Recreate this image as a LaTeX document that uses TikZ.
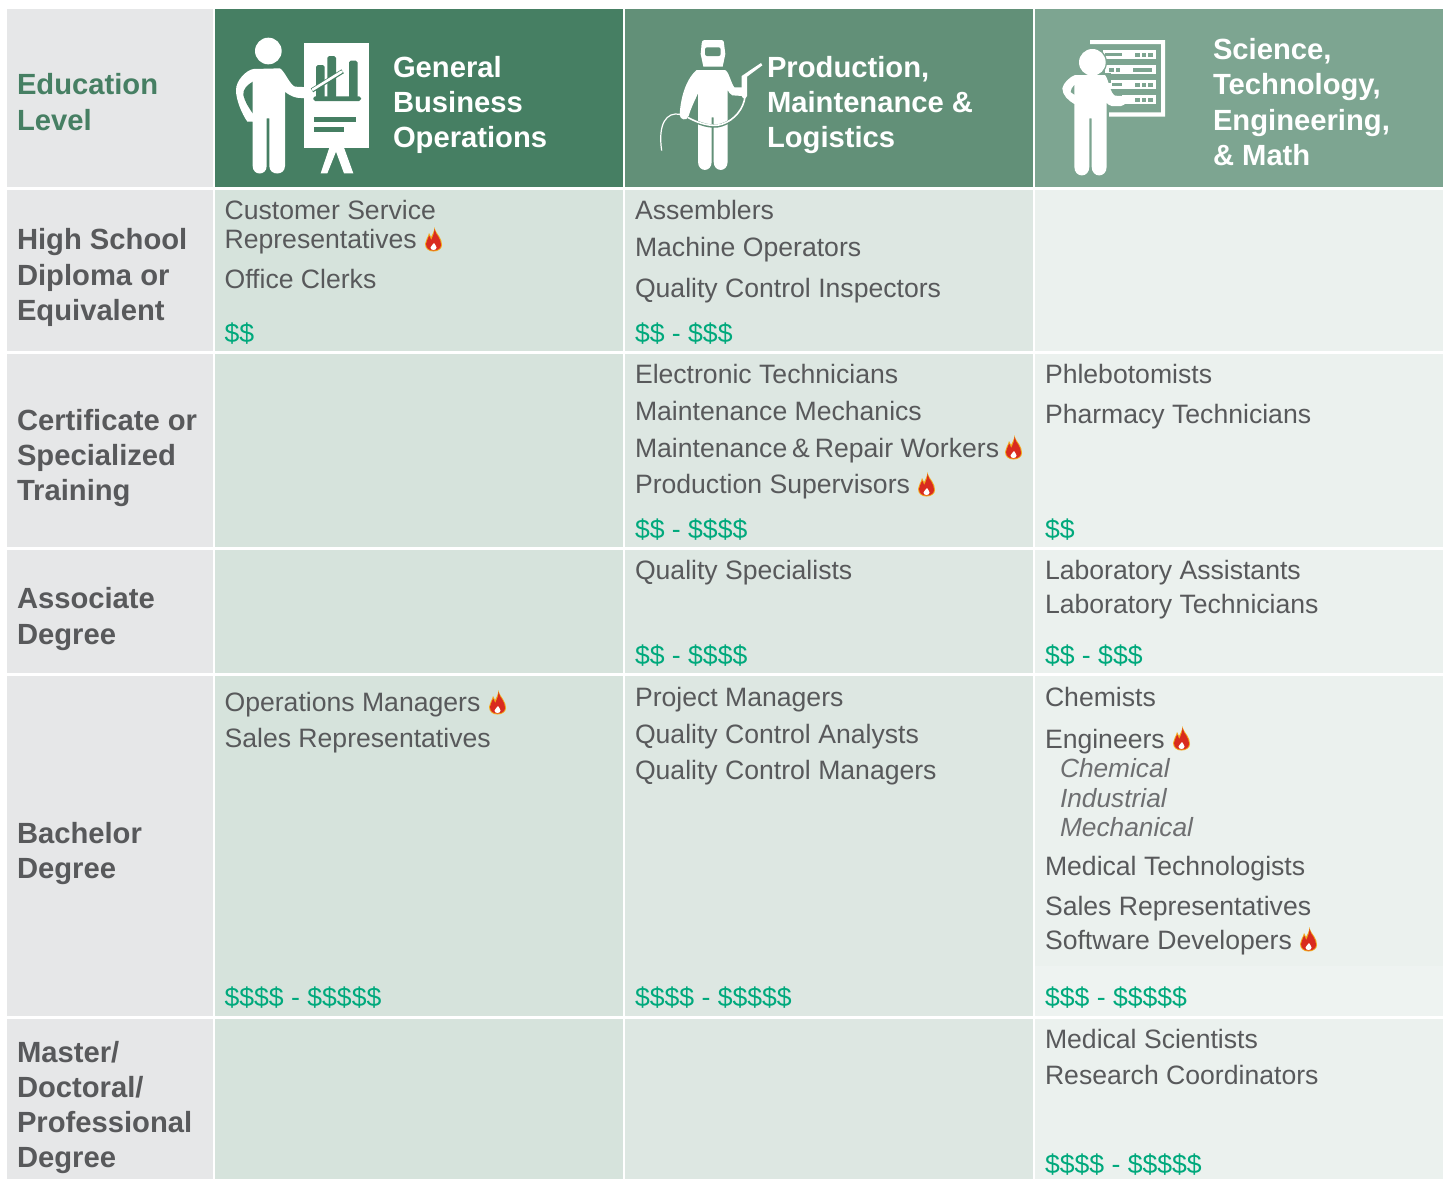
\documentclass[tikz,border=0pt]{standalone}
\usepackage{fontspec}
\setmainfont{Liberation Sans}
\definecolor{hA}{HTML}{467F63}
\definecolor{hB}{HTML}{629078}
\definecolor{hC}{HTML}{7DA591}
\definecolor{cGrey}{HTML}{E6E7E8}
\definecolor{cA}{HTML}{D6E3DC}
\definecolor{cB}{HTML}{DDE7E2}
\definecolor{cC}{HTML}{EBF1EE}
\definecolor{cCb}{HTML}{EEF3F1}
\definecolor{txt}{HTML}{58595B}
\definecolor{subtxt}{HTML}{6E6F71}
\definecolor{money}{HTML}{00A97C}
\definecolor{flameO}{HTML}{F2A81D}
\definecolor{flameR}{HTML}{D92B1F}
\tikzset{
  lab/.style={anchor=base west,inner sep=0pt,outer sep=0pt,font=\fontsize{29.2}{32}\selectfont\bfseries},
  side/.style={lab,text=txt},
  edu/.style={lab,text=hA},
  head/.style={lab,text=white},
  job/.style={anchor=base west,inner sep=0pt,outer sep=0pt,text=txt,font=\fontsize{26.6}{30}\selectfont},
  sub/.style={job,text=subtxt,font=\fontsize{26.3}{30}\selectfont\itshape},
  pay/.style={job,text=money},
  icon/.style={fill=white,draw=none},
  pics/flame/.style={code={
    \fill[flameO] (9.5,0) .. controls (10,4) and (12,6) .. (14,9) .. controls (16,12) and (17,15) .. (17,18) .. controls (17,22) and (13,24.5) .. (8.5,24.5) .. controls (4,24.5) and (0,22) .. (0,17) .. controls (0,13) and (3,11) .. (4,6) .. controls (5,7.5) and (5.5,9) .. (6,10) .. controls (7,8) and (9.5,4) .. (9.5,0) -- cycle;
    \fill[flameR] (9.5,2) .. controls (10,5.5) and (12,7.5) .. (13.5,10) .. controls (15.3,13) and (16,15.5) .. (16,18) .. controls (16,21.5) and (12.5,23.5) .. (8.5,23.5) .. controls (4.5,23.5) and (1,21.5) .. (1,17) .. controls (1,14) and (3.3,12) .. (4.2,8.5) .. controls (4.8,10) and (5.5,11.5) .. (6.3,13) .. controls (7.5,10) and (9.5,6) .. (9.5,2) -- cycle;
    \fill[white] (9,16) .. controls (9.5,17.5) and (11.5,18.5) .. (11.5,20.5) .. controls (11.5,22) and (10.2,23) .. (8.5,23) .. controls (6.8,23) and (5.5,22) .. (5.5,20.5) .. controls (5.5,19) and (8,18) .. (9,16) -- cycle;
  }}
}
\begin{document}
\begin{tikzpicture}[x=1pt,y=-1pt]
\useasboundingbox (0,0) rectangle (1445,1179);
\fill[white] (0,0) rectangle (1445,1179);
% first column
\fill[cGrey] (7,9) rectangle (213,187);
\fill[cGrey] (7,190) rectangle (213,351);
\fill[cGrey] (7,354) rectangle (213,547);
\fill[cGrey] (7,550) rectangle (213,673);
\fill[cGrey] (7,676) rectangle (213,1016);
\fill[cGrey] (7,1019) rectangle (213,1179);
% headers
\fill[hA] (215,9) rectangle (623,187);
\fill[hB] (625,9) rectangle (1033,187);
\fill[hC] (1035,9) rectangle (1443,187);
% body
\foreach \a/\b in {190/351,354/547,550/673,676/1016,1019/1179}{
  \fill[cA] (215,\a) rectangle (623,\b);
  \fill[cB] (625,\a) rectangle (1033,\b);
  \fill[cC] (1035,\a) rectangle (1443,\b);
}
\fill[cCb] (1035,966) rectangle (1443,1016);

% Icon 1
\begin{scope}[shift={(230,30)},scale=1/3]
  \fill[icon] (115,63) circle (40);
  \fill[icon] (70,117) -- (150,115) .. controls (165,125) and (180,165) .. (195,170) -- (240,172) .. controls (252,175) and (252,205) .. (238,206) -- (200,203) .. controls (185,200) and (170,190) .. (165,185)
    -- (165,408) .. controls (165,438) and (118,438) .. (118,408) -- (118,265) -- (110,265) -- (110,408) .. controls (110,438) and (68,438) .. (68,408) -- (68,275) -- (52,275) .. controls (35,250) and (18,210) .. (18,180) .. controls (18,150) and (50,120) .. (70,117) -- cycle;
  \fill[hA] (68,155) .. controls (52,165) and (38,178) .. (40,195) .. controls (44,215) and (58,235) .. (68,250) -- cycle;
  \fill[icon] (222,38) rectangle (418,353);
  \fill[icon] (298,353) -- (272,430) -- (292,430) -- (318,365) -- (342,430) -- (370,430) -- (342,353) -- cycle;
  \fill[hA,rounded corners=1.8] (258,205) -- (258,105) -- (284,105) -- (284,205) -- cycle;
  \fill[hA,rounded corners=1.8] (292,205) -- (292,78) -- (318,78) -- (318,205) -- cycle;
  \fill[hA,rounded corners=1.8] (357,205) -- (357,92) -- (383,92) -- (383,205) -- cycle;
  \fill[hA,rounded corners=1.8] (250,199) rectangle (393,213);
  \draw[hA,line width=4.5] (246,181) -- (338,124);
  \draw[white,line width=2.6,line cap=round] (248,179) -- (335,125);
  \fill[hA] (252,262) rectangle (378,276);
  \fill[hA] (252,290) rectangle (342,305);
\end{scope}

% Icon 2
\begin{scope}[shift={(655,30)},scale=1/3]
  \fill[icon] (148,30) -- (200,30) .. controls (205,30) and (207,35) .. (207,40) -- (211,72) -- (203,110) -- (145,110) -- (137,72) -- (140,40) .. controls (140,35) and (143,30) .. (148,30) -- cycle;
  \fill[hB,rounded corners=2] (150,52) rectangle (197,78);
  \fill[icon] (125,120) -- (210,120) .. controls (222,125) and (228,160) .. (238,172) -- (262,172) -- (262,198) -- (232,196) .. controls (225,192) and (220,186) .. (218,180)
    -- (218,395) .. controls (218,428) and (176,428) .. (176,395) -- (176,262) -- (170,262) -- (170,395) .. controls (170,428) and (129,428) .. (129,395) -- (129,190) .. controls (120,210) and (105,240) .. (100,262) .. controls (95,272) and (75,270) .. (74,255) .. controls (76,210) and (90,150) .. (125,120) -- cycle;
  \draw[hB,line width=3.2] (98,262) .. controls (130,282) and (170,295) .. (200,285) .. controls (240,272) and (268,235) .. (272,200);
  \draw[white,line width=1.6] (98,262) .. controls (130,280) and (170,292) .. (200,283) .. controls (240,270) and (266,235) .. (270,200);
  \draw[white,line width=1.2] (75,253) .. controls (35,245) and (8,280) .. (20,362);
  \fill[icon] (260,138) -- (318,99) -- (322,106) -- (276,140) -- (276,198) .. controls (272,208) and (264,208) .. (260,198) -- cycle;
\end{scope}

% Icon 3
\begin{scope}[shift={(1055,30)},scale=1/3]
  \fill[icon] (105,30) -- (330,30) -- (330,260) -- (162,260) -- (162,247) -- (318,247) -- (318,42) -- (105,42) -- cycle;
  \fill[icon] (145,60) rectangle (302,88);
  \fill[icon] (150,105) rectangle (302,133);
  \fill[icon] (160,150) rectangle (302,178);
  \fill[icon] (200,195) rectangle (302,223);
  \fill[hC] (150,68) rectangle (200,79);
  \foreach \q in {240,260,280}{ \fill[hC] (\q,68) rectangle (\q+14,80); }
  \foreach \q in {162,182}{ \fill[hC] (\q,113) rectangle (\q+14,125); }
  \fill[hC] (235,113) rectangle (290,125);
  \fill[hC] (170,158) rectangle (200,169);
  \foreach \q in {240,260,280}{ \fill[hC] (\q,159) rectangle (\q+14,171); }
  \foreach \q in {240,260,280}{ \fill[hC] (\q,204) rectangle (\q+14,216); }
  \fill[hC] (112,97) circle (44);
  \fill[hC] (60,128) rectangle (168,160);
  \fill[icon] (112,97) circle (40);
  \fill[icon] (60,135) -- (150,135) .. controls (162,150) and (165,190) .. (180,197) -- (200,198) .. controls (216,200) and (216,228) .. (198,228) -- (170,228) .. controls (162,226) and (157,222) .. (155,218)
    -- (155,410) .. controls (155,445) and (110,445) .. (110,410) -- (110,265) -- (103,265) -- (103,410) .. controls (103,445) and (58,445) .. (58,410) -- (58,222) .. controls (40,212) and (22,195) .. (22,175) .. controls (24,160) and (45,140) .. (60,135) -- cycle;
  \fill[hC] (58,165) .. controls (52,172) and (46,180) .. (47,186) -- (58,194) -- cycle;
\end{scope}

% Flames
\path (425,227) pic {flame};
\path (1005,435) pic {flame};
\path (918,472) pic {flame};
\path (489,690) pic {flame};
\path (1173,726) pic {flame};
\path (1300,927) pic {flame};

% Row labels
\node[edu] (e1) at (17,94) {Education};
\node[edu] (e2) at (17,130) {Level};
\node[side] (s1) at (17,249) {High School};
\node[side] (s2) at (17,285) {Diploma or};
\node[side] (s3) at (17,320) {Equivalent};
\node[side] (s4) at (17,430) {Certificate or};
\node[side] (s5) at (17,465) {Specialized};
\node[side] (s6) at (17,500) {Training};
\node[side] (s7) at (17,608) {Associate};
\node[side] (s8) at (17,644) {Degree};
\node[side] (s9) at (17,843) {Bachelor};
\node[side] (s10) at (17,878) {Degree};
\node[side] (s11) at (17,1062) {Master/};
\node[side] (s12) at (17,1097) {Doctoral/};
\node[side] (s13) at (17,1132) {Professional};
\node[side] (s14) at (17,1167) {Degree};

% Column headers
\node[head] (h1) at (393,77) {General};
\node[head] (h2) at (393,112) {Business};
\node[head] (h3) at (393,147) {Operations};
\node[head] (h4) at (767,77) {Production,};
\node[head] (h5) at (767,112) {Maintenance \&};
\node[head] (h6) at (767,147) {Logistics};
\node[head] (h7) at (1213,59) {Science,};
\node[head] (h8) at (1213,94) {Technology,};
\node[head] (h9) at (1213,130) {Engineering,};
\node[head] (h10) at (1213,165) {\& Math};

% Column 1
\node[job] (a1) at (224.6,219) {Customer Service};
\node[job] (a2) at (224.6,248) {Representatives};
\node[job] (a3) at (224.6,288) {Office Clerks};
\node[pay] (a4) at (224.6,342) {\$\$};
\node[job] (a5) at (224.6,711) {Operations Managers};
\node[job] (a6) at (224.6,747) {Sales Representatives};
\node[pay] (a7) at (224.6,1006) {\$\$\$\$ - \$\$\$\$\$};

% Column 2
\node[job] (b1) at (635,219) {Assemblers};
\node[job] (b2) at (635,256) {Machine Operators};
\node[job] (b3) at (635,297) {Quality Control Inspectors};
\node[pay] (b4) at (635,342) {\$\$ - \$\$\$};
\node[job] (b5) at (635,383) {Electronic Technicians};
\node[job] (b6) at (635,420) {Maintenance Mechanics};
\node[job] (b7) at (635,457) {Maintenance\kern-2.5pt{} \&\kern-2.5pt{} Repair Workers};
\node[job] (b8) at (635,493) {Production Supervisors};
\node[pay] (b9) at (635,538) {\$\$ - \$\$\$\$};
\node[job] (b10) at (635,579) {Quality Specialists};
\node[pay] (b11) at (635,664) {\$\$ - \$\$\$\$};
\node[job] (b12) at (635,706) {Project Managers};
\node[job] (b13) at (635,743) {Quality Control Analysts};
\node[job] (b14) at (635,779) {Quality Control Managers};
\node[pay] (b15) at (635,1006) {\$\$\$\$ - \$\$\$\$\$};

% Column 3
\node[job] (c1) at (1045,383) {Phlebotomists};
\node[job] (c2) at (1045,423) {Pharmacy Technicians};
\node[pay] (c3) at (1045,538) {\$\$};
\node[job] (c4) at (1045,579) {Laboratory Assistants};
\node[job] (c5) at (1045,613) {Laboratory Technicians};
\node[pay] (c6) at (1045,664) {\$\$ - \$\$\$};
\node[job] (c7) at (1045,706) {Chemists};
\node[job] (c8) at (1045,748) {Engineers};
\node[sub] (c9) at (1060,777) {Chemical};
\node[sub] (c10) at (1060,807) {Industrial};
\node[sub] (c11) at (1060,836) {Mechanical};
\node[job] (c12) at (1045,875) {Medical Technologists};
\node[job] (c13) at (1045,915) {Sales Representatives};
\node[job] (c14) at (1045,949) {Software Developers};
\node[pay] (c15) at (1045,1006) {\$\$\$ - \$\$\$\$\$};
\node[job] (c16) at (1045,1048) {Medical Scientists};
\node[job] (c17) at (1045,1084) {Research Coordinators};
\node[pay] (c18) at (1045,1173) {\$\$\$\$ - \$\$\$\$\$};
\end{tikzpicture}
\end{document}
